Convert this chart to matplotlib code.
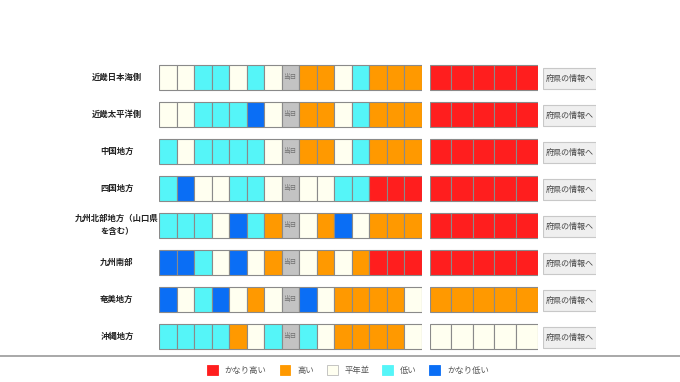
import matplotlib
matplotlib.use("Agg")
import matplotlib.pyplot as plt
from matplotlib.patches import Patch
from matplotlib.lines import Line2D

plt.rcParams['font.family'] = ['Noto Sans CJK JP', 'DejaVu Sans']

# ---- data ----
regions = ["近畿日本海側", "近畿太平洋側", "中国地方", "四国地方",
           "九州北部地方（山口県\nを含む）", "九州南部", "奄美地方", "沖縄地方"]
# codes: R=かなり高い O=高い N=平年並 L=低い B=かなり低い T=当日
daily = [
    "N N L L N L N T O O N L O O O",
    "N N L L L B N T O O N L O O O",
    "L N L L L L N T O O N L O O O",
    "L B N N L L N T N N L L R R R",
    "L L L N B L O T N O B N O O O",
    "B B L N B N O T N O N O R R R",
    "B N L B N O N T B N O O O O N",
    "L L L L O N L T L N O O O O N",
]
weekly = [
    "R R R R R",
    "R R R R R",
    "R R R R R",
    "R R R R R",
    "R R R R R",
    "R R R R R",
    "O O O O O",
    "N N N N N",
]
today_label = "当日"
button_label = "府県の情報へ"
legend_codes = ["R", "O", "N", "L", "B"]
legend_labels = ["かなり高い", "高い", "平年並", "低い", "かなり低い"]

colors = {"R": "#FF1E1E", "O": "#FF9900", "N": "#FFFFF0", "L": "#55F5F8",
          "B": "#0A6EF5", "T": "#C3C3C3"}
edge = "#8a8a8a"

W, H = 680, 382
fig = plt.figure(figsize=(W / 100, H / 100), dpi=100)

top_px, bot_px = 58.5, 354.5
ax_b = 1 - bot_px / H
ax_h = (bot_px - top_px) / H

def make_ax(x0, x1, ncols):
    ax = fig.add_axes([x0 / W, ax_b, (x1 - x0) / W, ax_h])
    ax.set_xlim(0, ncols)
    ax.set_ylim(len(regions) - 0.5, -0.5)
    ax.axis("off")
    return ax

ax1 = make_ax(159, 421.5, 15)
ax2 = make_ax(429.5, 537.5, 5)
ax3 = make_ax(543, 596, 1)

cell_h = 25 / 37

for r, (row1, row2) in enumerate(zip(daily, weekly)):
    c1 = row1.split()
    c2 = row2.split()
    ax1.barh([r] * len(c1), [1] * len(c1), left=list(range(len(c1))), height=cell_h,
             color=[colors[c] for c in c1], edgecolor=edge, linewidth=0.8, align="center")
    for i, c in enumerate(c1):
        if c == "T":
            ax1.text(i + 0.5, r, today_label, ha="center", va="center",
                     fontsize=4.8, color="#707070")
    ax2.barh([r] * len(c2), [1] * len(c2), left=list(range(len(c2))), height=cell_h,
             color=[colors[c] for c in c2], edgecolor=edge, linewidth=0.8, align="center")
    # button
    ax3.barh(r + 0.04, 1, left=0, height=21 / 37, color="#EFEFEF",
             edgecolor="#C8C8C8", linewidth=0.8)
    ax3.text(0.5, r + 0.04, button_label, ha="center", va="center",
             fontsize=5.8, color="#444444")
    # region label
    ax1.text(-2.4, r, regions[r], ha="center", va="center", fontsize=6.0,
             fontweight="bold", color="#222222", multialignment="center",
             linespacing=1.5)

# separator line
fig.add_artist(Line2D([0, 1], [1 - 356 / H, 1 - 356 / H], transform=fig.transFigure,
                      color="#9a9a9a", linewidth=1.2))

handles = [Patch(facecolor=colors[c], edgecolor="#bbbbbb" if c == "N" else colors[c],
                 linewidth=0.6) for c in legend_codes]
fig.legend(handles, legend_labels, loc="center", bbox_to_anchor=(348 / W, 1 - 370 / H),
           ncol=5, frameon=False, fontsize=6.0, handlelength=1.3, handleheight=1.5,
           handletextpad=0.8, columnspacing=1.55, labelcolor="#555555")

fig.savefig("out.png", dpi=100, facecolor="white")
